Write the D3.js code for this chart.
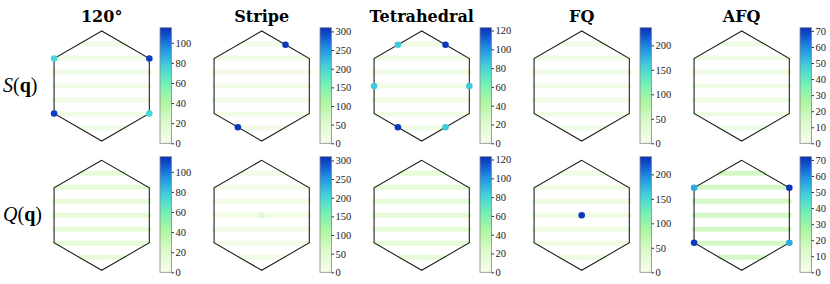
<!DOCTYPE html>
<html>
<head>
<meta charset="utf-8">
<script src="https://cdn.jsdelivr.net/npm/d3@7"></script>
<style>
  body { margin: 0; background: #fff; }
  text { font-family: "Liberation Serif", "DejaVu Serif", serif; }
</style>
</head>
<body>
<svg id="chart" width="830" height="284"></svg>
<script>
// column titles and colour bar ranges (shared by both rows of a column)
var titles = ["120°", "Stripe", "Tetrahedral", "FQ", "AFQ"];
var cbarMax = [115, 310, 123, 236, 72];
var cbarTicks = [
  [0, 20, 40, 60, 80, 100],
  [0, 50, 100, 150, 200, 250, 300],
  [0, 20, 40, 60, 80, 100, 120],
  [0, 50, 100, 150, 200],
  [0, 10, 20, 30, 40, 50, 60, 70]
];

// rows of q points (qy, in units of the BZ corner radius) and their faint background level
var stripeRows = [-0.764, -0.509, -0.255, 0, 0.255, 0.509, 0.764];
var stripeS = [4, 9, 5, 9, 4];
var stripeQ = [13, 10, 15, 12, 15];

// peaks: [qx, qy, value]
var peaksS = [
  [[-0.866, 0.5, 75], [0.866, 0.5, 112], [-0.866, -0.5, 112], [0.866, -0.5, 75]],
  [[0.433, 0.75, 305], [-0.433, -0.75, 305]],
  [[-0.433, 0.75, 85], [0.433, 0.75, 121], [-0.866, 0, 85], [0.866, 0, 85], [-0.433, -0.75, 121], [0.433, -0.75, 85]],
  [],
  []
];
var peaksQ = [
  [],
  [[0, 0, 45]],
  [],
  [[0, 0, 232]],
  [[-0.866, 0.5, 55], [0.866, 0.5, 71], [-0.866, -0.5, 71], [0.866, -0.5, 55]]
];

var svg = d3.select("#chart");

var cmapStops = [0, 0.17, 0.35, 0.52, 0.68, 0.84, 1];
var cmapColors = ["#f6fdec", "#dffad0", "#b2f5a2", "#72f0b4", "#3fcfdc", "#1e86e2", "#0a2fba"];
var cmap = d3.scaleLinear().domain(cmapStops).range(cmapColors).interpolate(d3.interpolateRgb);

var grad = svg.append("defs").append("linearGradient")
    .attr("id", "cbar").attr("x1", 0).attr("y1", 1).attr("x2", 0).attr("y2", 0);
grad.selectAll("stop").data(d3.range(0, 1.0001, 0.05)).enter().append("stop")
    .attr("offset", function(d) { return d; })
    .attr("stop-color", function(d) { return cmap(d); });

var R = 55, colW = 160, cx0 = 101.7;
var rowsY = [86, 215.3];
var cbarTop = [27.7, 156.7], cbarH = 115.6;

function halfWidth(qy) {
  var a = Math.abs(qy);
  return a <= 0.5 ? 0.866 : (1 - a) * Math.sqrt(3);
}

var hexPts = d3.range(6).map(function(i) {
  var a = Math.PI / 2 + i * Math.PI / 3;
  return [Math.cos(a), Math.sin(a)];
});

function panel(col, row) {
  var cx = cx0 + col * colW, cy = rowsY[row];
  var x = d3.scaleLinear().domain([-1, 1]).range([cx - R, cx + R]);
  var y = d3.scaleLinear().domain([-1, 1]).range([cy + R, cy - R]);
  var vmax = cbarMax[col];
  var norm = function(v) { return cmap(Math.min(1, v / vmax)); };
  var g = svg.append("g");
  var level = row === 0 ? stripeS[col] : stripeQ[col];

  g.selectAll("line.stripe").data(stripeRows).enter().append("line")
      .attr("class", "stripe")
      .attr("x1", function(d) { return x(-halfWidth(d)); })
      .attr("x2", function(d) { return x(halfWidth(d)); })
      .attr("y1", function(d) { return y(d); })
      .attr("y2", function(d) { return y(d); })
      .attr("stroke", norm(level))
      .attr("stroke-width", 5)
      .attr("stroke-linecap", "round");

  g.append("path")
      .attr("d", d3.line().x(function(d) { return x(d[0]); }).y(function(d) { return y(d[1]); })
        .curve(d3.curveLinearClosed)(hexPts))
      .attr("fill", "none").attr("stroke", "#222").attr("stroke-width", 1.1);

  var peaks = row === 0 ? peaksS[col] : peaksQ[col];
  g.selectAll("circle").data(peaks).enter().append("circle")
      .attr("cx", function(d) { return x(d[0]); })
      .attr("cy", function(d) { return y(d[1]); })
      .attr("r", 3.3)
      .attr("fill", function(d) { return norm(d[2]); });

  // colour bar
  var bx = 160 + col * colW, bw = 11.5, by = cbarTop[row];
  var cs = d3.scaleLinear().domain([0, vmax]).range([by + cbarH, by]);
  g.append("rect").attr("x", bx).attr("y", by).attr("width", bw).attr("height", cbarH)
      .attr("fill", "url(#cbar)").attr("stroke", "#888").attr("stroke-width", 0.8);
  var ax = g.append("g").attr("transform", "translate(" + (bx + bw) + ",0)")
      .call(d3.axisRight(cs).tickValues(cbarTicks[col]).tickSize(2.5).tickPadding(1.5));
  ax.select(".domain").remove();
  ax.selectAll("text").style("font-family", "Liberation Serif, serif").attr("font-size", 10.5).attr("fill", "#222");
  ax.selectAll("line").attr("stroke", "#333");
}

titles.forEach(function(t, col) {
  svg.append("text").attr("x", cx0 + col * colW).attr("y", 21.5)
      .attr("text-anchor", "middle").attr("font-size", 16).attr("font-weight", "bold")
      .style("font-family", "'DejaVu Serif', serif")
      .text(t);
  panel(col, 0);
  panel(col, 1);
});

var rowLabels = [["S", "q"], ["Q", "q"]];
rowLabels.forEach(function(l, row) {
  var t = svg.append("text").attr("x", 3).attr("y", rowsY[row] + 6).attr("font-size", 20);
  t.append("tspan").attr("font-style", "italic").text(l[0]);
  t.append("tspan").text("(");
  t.append("tspan").attr("font-weight", "bold").text(l[1]);
  t.append("tspan").text(")");
});
</script>
</body>
</html>
